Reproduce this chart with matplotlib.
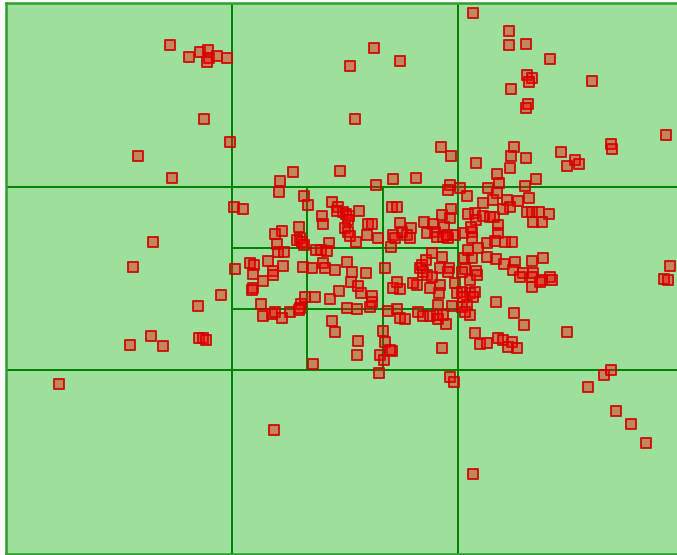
import matplotlib
matplotlib.use("Agg")
import matplotlib.pyplot as plt

# Region bounds (screen-like coordinates, y grows downward)
x_min, x_max = 6, 684
y_min, y_max = 3, 554

# Point locations
pts = [
    # upper-left block
    (170,45),(189,57),(200,52),(208,50),(209,58),(207,62),(217,56),(227,58),
    (204,119),(230,142),(138,156),(172,178),
    # upper-middle block
    (374,48),(350,66),(400,61),(355,119),(441,147),(451,156),(293,172),(340,171),
    (280,181),(393,179),(416,178),(376,185),
    # upper-right block
    (473,13),(509,31),(509,45),(526,44),(550,59),(527,75),(532,78),(529,82),(511,89),
    (592,81),(528,104),(526,108),(666,135),(514,147),(511,156),(526,158),(510,168),
    (561,152),(575,160),(567,166),(579,164),(611,144),(612,149),(476,163),(497,174),
    (499,183),(536,179),
    # left block
    (153,242),(133,267),(221,295),(198,306),(151,336),(130,345),(163,346),
    (199,338),(203,338),(206,340),
    # lower blocks
    (59,384),(274,430),(450,377),(454,382),(379,373),
    (473,474),(588,387),(604,375),(611,370),(616,411),(631,424),(646,443),
    # right block
    (670,266),(664,279),(668,280),(567,332),(524,325),(514,313),(496,302),
    (475,333),(480,344),(487,343),(498,338),(503,340),(512,342),(508,347),(517,348),
    # central block, upper band
    (234,207),(243,209),(304,196),(308,205),(279,192),(299,227),(282,231),(275,234),
    (300,238),(297,240),(302,242),(304,245),(277,244),(322,216),(323,224),(332,202),
    (338,207),(337,211),(343,212),(346,214),(349,216),(348,220),(359,211),(345,228),
    (348,232),(350,236),(368,224),(372,224),(367,235),(378,238),(356,242),(329,243),
    (392,207),(393,235),(391,247),
    (397,207),(400,223),(402,232),(411,228),(407,235),(410,238),(395,238),(424,222),
    (433,224),(435,232),(427,233),(437,237),(443,237),(448,238),(455,235),(442,215),
    (450,218),(444,227),(447,235),(451,209),(450,185),(448,190),(460,188),(467,196),
    (488,188),(497,193),(493,200),(483,203),(475,213),(468,214),(476,220),(483,216),
    (490,217),(494,217),(498,225),(463,233),(472,232),(472,238),(471,227),(498,233),
    (487,243),(495,241),(505,242),(512,242),(507,200),(518,201),(510,207),(503,209),
    (527,212),(532,212),(539,212),(549,214),(533,222),(542,222),(525,186),(529,198),
    # central block, middle band
    (316,250),(321,250),(327,251),(278,252),(284,252),(235,269),(250,263),(254,265),
    (253,274),(268,261),(283,266),(273,271),(273,275),(303,267),(312,268),(323,263),
    (325,268),(335,270),(347,262),(352,272),(366,273),(385,268),(253,288),(252,290),
    (263,281),(261,304),(301,304),(305,297),(315,297),(300,308),(290,312),(330,299),
    (339,291),(351,282),(358,286),(361,293),(372,296),
    (420,268),(423,272),(422,265),(426,260),(432,253),(442,257),(440,268),(449,268),
    (464,258),(472,258),(465,269),(476,271),(468,250),(478,248),(487,257),(496,259),
    (504,264),(515,262),(532,261),(543,258),(513,270),(523,273),(533,273),(550,277),
    (470,280),(477,275),(455,283),(440,285),(439,293),(430,288),(417,285),(413,283),
    (400,289),(393,288),(397,282),(427,275),(432,277),(448,272),(462,272),(520,277),
    (532,277),(542,280),(552,280),(532,287),(540,282),(457,293),(462,292),(470,293),
    (475,292),(463,297),(473,297),(438,305),(452,306),(462,307),(467,305),(397,309),
    # central block, lower band
    (263,316),(272,314),(275,312),(282,318),(299,310),(347,308),(357,309),(370,307),
    (372,302),(332,321),(335,332),(358,341),(357,355),(313,364),(383,331),(385,342),
    (380,355),(384,360),(388,311),(392,351),(400,318),(405,319),(418,312),(423,316),
    (430,316),(437,315),(438,319),(446,324),(443,315),(470,315),(465,312),(442,348),
    (390,350),
]
xs = [p[0] for p in pts]
ys = [p[1] for p in pts]

W, H = 677, 555
fig = plt.figure(figsize=(W / 100, H / 100), dpi=100)
fig.patch.set_facecolor("white")
ax = fig.add_axes([x_min / W, (H - y_max) / H, (x_max - x_min) / W, (y_max - y_min) / H])
ax.set_xlim(x_min, x_max)
ax.set_ylim(y_max, y_min)
ax.set_facecolor("#9ce09c")
ax.set_xticks([])
ax.set_yticks([])
for s in ax.spines.values():
    s.set_color("#2e9e2e")
    s.set_linewidth(1.8)

line_kw = dict(color="#008000", linewidth=1.4, zorder=1)
# coarse 3x3 partition
dx = (x_max - x_min) / 3
dy = (y_max - y_min) / 3
for i in (1, 2):
    ax.plot([x_min + i * dx] * 2, [y_min, y_max], **line_kw)
    ax.plot([x_min, x_max], [y_min + i * dy] * 2, **line_kw)
# finer 3x3 partition of the central cell
cx0, cx1 = x_min + dx, x_min + 2 * dx
cy0, cy1 = y_min + dy, y_min + 2 * dy
for i in (1, 2):
    ax.plot([cx0 + i * dx / 3] * 2, [cy0, cy1], **line_kw)
    ax.plot([cx0, cx1], [cy0 + i * dy / 3] * 2, **line_kw)

ax.scatter(xs, ys, marker="s", s=60, facecolor=(1.0, 0.0, 0.0, 0.4),
           edgecolor=(0.82, 0, 0, 0.85), linewidth=1.45, zorder=3)

fig.savefig("out.png", dpi=100)
